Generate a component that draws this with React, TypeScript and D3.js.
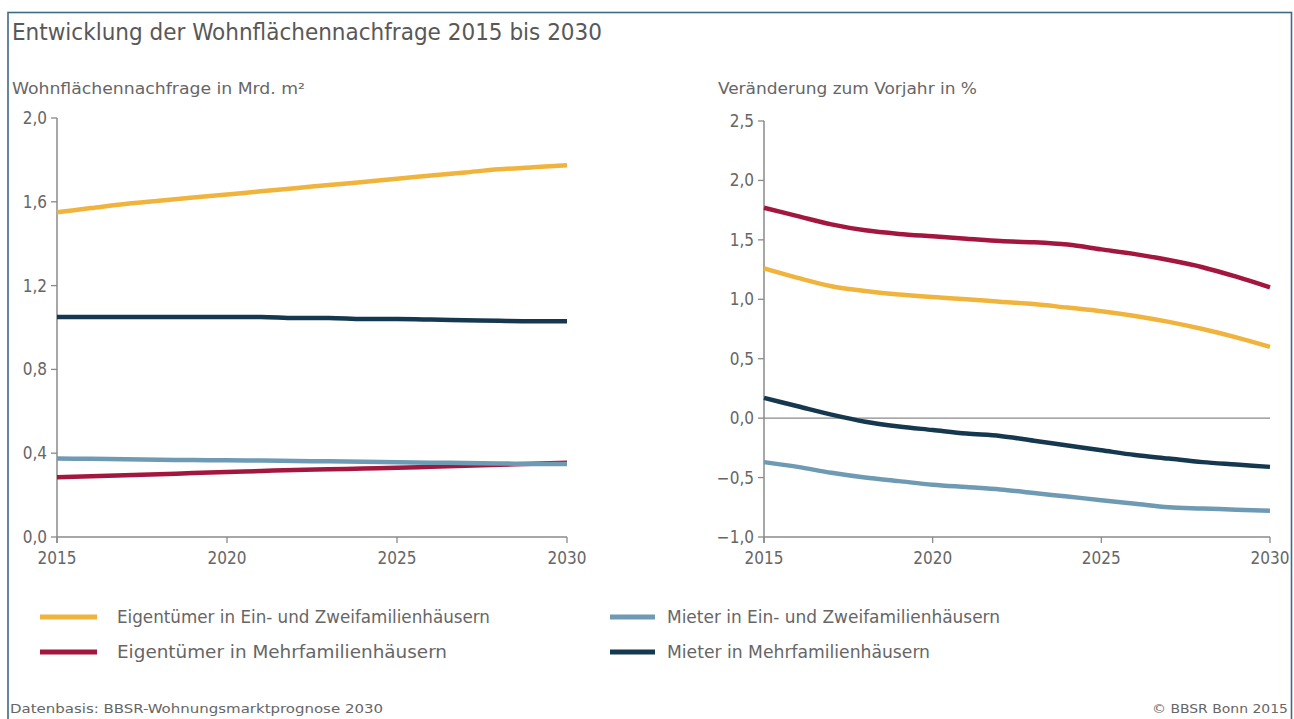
import React from "react";
import * as d3 from "d3";

const years = [2015, 2016, 2017, 2018, 2019, 2020, 2021, 2022, 2023, 2024, 2025, 2026, 2027, 2028, 2029, 2030];

// Left panel: Wohnflächennachfrage in Mrd. m²
const leftEigEZFH = [1.55, 1.57, 1.59, 1.605, 1.62, 1.635, 1.65, 1.665, 1.68, 1.695, 1.71, 1.725, 1.74, 1.755, 1.765, 1.775];
const leftEigMFH = [0.285, 0.29, 0.295, 0.3, 0.305, 0.31, 0.315, 0.32, 0.323, 0.327, 0.33, 0.335, 0.34, 0.345, 0.35, 0.355];
const leftMietEZFH = [0.375, 0.373, 0.371, 0.369, 0.367, 0.366, 0.365, 0.363, 0.361, 0.359, 0.357, 0.355, 0.353, 0.351, 0.349, 0.348];
const leftMietMFH = [1.05, 1.05, 1.05, 1.05, 1.05, 1.05, 1.05, 1.045, 1.045, 1.04, 1.04, 1.038, 1.035, 1.032, 1.03, 1.03];

// Right panel: Veränderung zum Vorjahr in %
const rightEigEZFH = [1.26, 1.18, 1.11, 1.07, 1.04, 1.02, 1.0, 0.98, 0.96, 0.93, 0.9, 0.86, 0.81, 0.75, 0.68, 0.6];
const rightEigMFH = [1.77, 1.7, 1.63, 1.58, 1.55, 1.53, 1.51, 1.49, 1.48, 1.46, 1.42, 1.38, 1.33, 1.27, 1.19, 1.1];
const rightMietEZFH = [-0.37, -0.41, -0.46, -0.5, -0.53, -0.56, -0.58, -0.6, -0.63, -0.66, -0.69, -0.72, -0.75, -0.76, -0.77, -0.78];
const rightMietMFH = [0.17, 0.1, 0.03, -0.03, -0.07, -0.1, -0.13, -0.15, -0.19, -0.23, -0.27, -0.31, -0.34, -0.37, -0.39, -0.41];

const xTicks = [2015, 2020, 2025, 2030];
const leftYTicks = [0, 0.4, 0.8, 1.2, 1.6, 2.0];
const rightYTicks = [-1.0, -0.5, 0, 0.5, 1.0, 1.5, 2.0, 2.5];

const seriesNames = [
  "Eigentümer in Ein- und Zweifamilienhäusern",
  "Eigentümer in Mehrfamilienhäusern",
  "Mieter in Ein- und Zweifamilienhäusern",
  "Mieter in Mehrfamilienhäusern",
];
const colors = ["#f0b43c", "#a3173f", "#6f9ab3", "#15384f"];

const FONT = "'Liberation Sans Narrow', 'DejaVu Sans Condensed', 'Roboto', sans-serif";
const TXT = "#666666";
const AXIS = "#8a8a8a";

const fmt = (v: number) => {
  const s = v.toFixed(1).replace(".", ",");
  return v < 0 ? s.replace("-", "\u2212") : s;
};

function Panel(props: {
  x0: number; x1: number; y0: number; y1: number;
  domain: [number, number]; yTicks: number[]; series: number[][]; zeroLine?: boolean;
}) {
  const { x0, x1, y0, y1, domain, yTicks, series, zeroLine } = props;
  const x = d3.scaleLinear().domain([2015, 2030]).range([x0, x1]);
  const y = d3.scaleLinear().domain(domain).range([y1, y0]);
  const line = d3.line<number>().x((_, i) => x(years[i])).y((d) => y(d)).curve(d3.curveMonotoneX);
  return (
    <g>
      {zeroLine && <line x1={x0} x2={x1} y1={y(0)} y2={y(0)} stroke={AXIS} strokeWidth={1.3} />}
      <line x1={x0} x2={x0} y1={y(domain[1])} y2={y(domain[0]) + 6} stroke={AXIS} strokeWidth={1.5} />
      <line x1={x0} x2={x1} y1={y(domain[0])} y2={y(domain[0])} stroke={AXIS} strokeWidth={1.5} />
      {yTicks.map((t) => (
        <g key={t}>
          <line x1={x0 - 6} x2={x0} y1={y(t)} y2={y(t)} stroke={AXIS} strokeWidth={1.3} />
          <text x={x0 - 10} y={y(t) + 6} textAnchor="end" fontSize={17} fill={TXT} fontFamily={FONT}>{fmt(t)}</text>
        </g>
      ))}
      {xTicks.map((t) => (
        <g key={t}>
          <line x1={x(t)} x2={x(t)} y1={y(domain[0])} y2={y(domain[0]) + 6} stroke={AXIS} strokeWidth={1.3} />
          <text x={x(t)} y={y(domain[0]) + 27} textAnchor="middle" fontSize={17} fill={TXT} fontFamily={FONT}>{t}</text>
        </g>
      ))}
      {series.map((s, i) => (
        <path key={i} d={line(s) || ""} fill="none" stroke={colors[i]} strokeWidth={4.5} strokeLinecap="butt" />
      ))}
    </g>
  );
}

export default function App() {
  const leftSeries = [leftEigEZFH, leftEigMFH, leftMietEZFH, leftMietMFH];
  const rightSeries = [rightEigEZFH, rightEigMFH, rightMietEZFH, rightMietMFH];
  const legend = [
    { i: 0, lx0: 40, lx1: 97, tx: 117, y: 617, w: 373 },
    { i: 1, lx0: 40, lx1: 97, tx: 117, y: 652, w: 330 },
    { i: 2, lx0: 610, lx1: 655, tx: 667, y: 617, w: 333 },
    { i: 3, lx0: 610, lx1: 655, tx: 667, y: 652, w: 263 },
  ];
  return (
    <svg width={1294} height={719} style={{ position: "absolute", left: 0, top: 0, background: "#fff" }}>
      <rect x={8} y={12.5} width={1283.5} height={720} fill="#fff" stroke="#3f6a86" strokeWidth={1.6} />
      <text x={12} y={40} fontSize={23} fill="#585858" fontFamily={FONT} textLength={590} lengthAdjust="spacingAndGlyphs">
        Entwicklung der Wohnflächennachfrage 2015 bis 2030
      </text>
      <text x={12} y={94} fontSize={16} fill={TXT} fontFamily={FONT} textLength={293} lengthAdjust="spacingAndGlyphs">
        Wohnflächennachfrage in Mrd. m²
      </text>
      <text x={718} y={94} fontSize={16} fill={TXT} fontFamily={FONT} textLength={259} lengthAdjust="spacingAndGlyphs">
        Veränderung zum Vorjahr in %
      </text>
      <Panel x0={57} x1={567} y0={118} y1={537} domain={[0, 2]} yTicks={leftYTicks} series={leftSeries} />
      <Panel x0={764} x1={1270} y0={121} y1={537} domain={[-1, 2.5]} yTicks={rightYTicks} series={rightSeries} zeroLine />
      {legend.map(({ i, lx0, lx1, tx, y, w }) => (
        <g key={i}>
          <line x1={lx0} x2={lx1} y1={y} y2={y} stroke={colors[i]} strokeWidth={5} />
          <text x={tx} y={y + 6} fontSize={18} fill={TXT} fontFamily={FONT} textLength={w} lengthAdjust="spacingAndGlyphs">
            {seriesNames[i]}
          </text>
        </g>
      ))}
      <text x={10} y={713} fontSize={13} fill={TXT} fontFamily={FONT} textLength={373} lengthAdjust="spacingAndGlyphs">
        Datenbasis: BBSR-Wohnungsmarktprognose 2030
      </text>
      <text x={1152} y={713} fontSize={13} fill={TXT} fontFamily={FONT} textLength={136} lengthAdjust="spacingAndGlyphs">
        © BBSR Bonn 2015
      </text>
    </svg>
  );
}
